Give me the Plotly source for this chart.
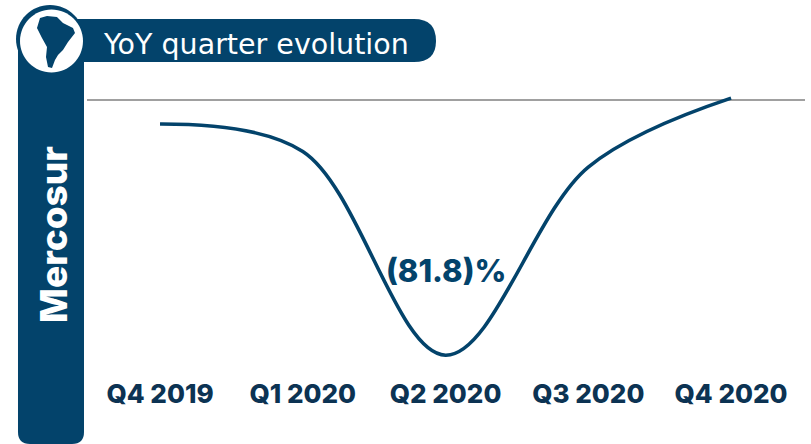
import plotly.graph_objects as go

W, H = 811, 444
categories = ["Q4 2019", "Q1 2020", "Q2 2020", "Q3 2020", "Q4 2020"]
yoy_values = [-7.7, -16.5, -81.8, -21.5, 0.6]
peak_label = "(81.8)%"
title_text = "YoY quarter evolution"
side_text = "Mercosur"

NAVY = "#03436B"
TICK = "#0C3353"
FONT = "Inter, 'Open Sans', sans-serif"
PLOT_BOTTOM = 376


def px(x):
    return x / W


def py(y):
    return 1 - y / PLOT_BOTTOM


def path(cmds):
    out = []
    for c in cmds:
        if isinstance(c, str):
            out.append(c)
        else:
            out.append(f"{px(c[0]):.5f},{py(c[1]):.5f}")
    return " ".join(out)


def paper_shape(d, fill, line=None, lw=0):
    return dict(type="path", xref="paper", yref="paper", path=d, fillcolor=fill,
                line=dict(color=line or fill, width=lw), layer="above")


def circle(cx, cy, r, fill):
    k = 0.5523 * r
    return paper_shape(path([
        "M", (cx - r, cy),
        "C", (cx - r, cy - k), (cx - k, cy - r), (cx, cy - r),
        "C", (cx + k, cy - r), (cx + r, cy - k), (cx + r, cy),
        "C", (cx + r, cy + k), (cx + k, cy + r), (cx, cy + r),
        "C", (cx - k, cy + r), (cx - r, cy + k), (cx - r, cy), "Z"]), fill)


side_bar = paper_shape(path([
    "M", (18, 40), "L", (84, 40), "L", (84, 432), "Q", (84, 444), (72, 444),
    "L", (30, 444), "Q", (18, 444), (18, 432), "Z"]), NAVY)
header = paper_shape(path([
    "M", (50, 19), "L", (414, 19), "Q", (436, 19), (436, 41), "Q", (436, 62), (414, 62),
    "L", (50, 62), "Z"]), NAVY)
continent = [(40, 18), (47, 16), (57, 17), (63, 23), (73, 28), (75, 33), (68, 42), (63, 50),
             (58, 55), (55, 60), (52, 68), (48, 67), (46, 57), (47, 47), (42, 38), (37, 28)]
map_shape = paper_shape(path(["M", continent[0]] + sum([["L", p] for p in continent[1:]], []) + ["Z"]), NAVY)

baseline = dict(type="line", xref="paper", yref="y", x0=px(87), x1=px(805), y0=0, y1=0,
                line=dict(color="#808080", width=1.3), layer="below")

fig = go.Figure(go.Scatter(
    x=categories, y=yoy_values, mode="lines",
    line=dict(color=NAVY, width=3.6, shape="spline", smoothing=1.0),
    hoverinfo="skip", showlegend=False))

fig.update_layout(
    width=W, height=H, margin=dict(l=0, r=0, t=0, b=H - PLOT_BOTTOM),
    paper_bgcolor="white", plot_bgcolor="white",
    xaxis=dict(type="category", categoryorder="array", categoryarray=categories,
               range=[-1.121, 4.56], showgrid=False, zeroline=False, showline=False, ticks="",
               tickfont=dict(family=FONT, size=26, color=TICK, weight=800)),
    yaxis=dict(range=[-88.46, 32.05], visible=False),
    shapes=[baseline, side_bar, header, circle(50, 39, 34, NAVY), circle(51.5, 41, 31.5, "white"), map_shape],
    annotations=[
        dict(text=title_text, xref="paper", yref="paper", x=px(256), y=py(44), showarrow=False,
             xanchor="center", yanchor="middle",
             font=dict(family="'DejaVu Sans', sans-serif", size=28.5, color="white")),
        dict(text=side_text, xref="paper", yref="paper", x=px(53), y=py(235), showarrow=False,
             xanchor="center", yanchor="middle",
             textangle=-90, font=dict(family=FONT, size=37, color="white", weight=800)),
        dict(text=peak_label, x="Q2 2020", y=-54.6, showarrow=False,
             xanchor="center", yanchor="middle",
             font=dict(family=FONT, size=31, color=NAVY, weight=800)),
    ],
)
fig.write_html("out.html", config=dict(displayModeBar=False),
               post_script="document.body.style.margin='0';")
